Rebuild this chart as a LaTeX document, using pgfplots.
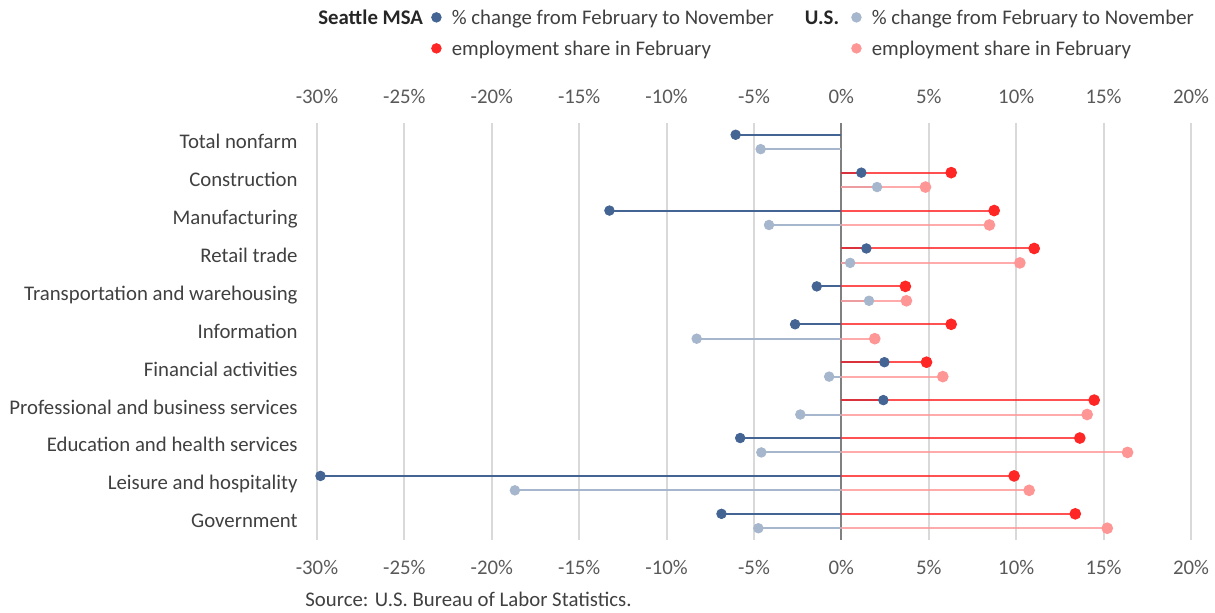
\documentclass[border=0pt]{standalone}
\usepackage{fontspec}
\setmainfont{Carlito}
\usepackage{pgfplots}
\usepackage{pgfplotstable}
\pgfplotsset{compat=1.18}
\definecolor{seablue}{RGB}{68,101,148}
\definecolor{usblue}{RGB}{166,182,204}
\definecolor{seared}{RGB}{255,38,38}
\definecolor{uspink}{RGB}{255,150,150}
\definecolor{gridgray}{RGB}{217,217,217}
\definecolor{zerogray}{RGB}{128,128,128}
\definecolor{ticktext}{RGB}{89,89,89}
\definecolor{labtext}{RGB}{64,64,64}
\definecolor{headtext}{RGB}{38,38,38}

\pgfplotstableread{
idx ys yu sc uc ss us
0 -0.19 0.19 -6.05 -4.62 nan nan
1 0.81 1.19 1.14 2.04 6.28 4.81
2 1.81 2.19 -13.27 -4.14 8.74 8.47
3 2.81 3.19 1.43 0.50 11.03 10.21
4 3.81 4.19 -1.41 1.58 3.66 3.72
5 4.81 5.19 -2.65 -8.28 6.28 1.91
6 5.81 6.19 2.46 -0.70 4.87 5.80
7 6.81 7.19 2.40 -2.35 14.46 14.06
8 7.81 8.19 -5.79 -4.58 13.64 16.37
9 8.81 9.19 -29.80 -18.68 9.88 10.74
10 9.81 10.19 -6.86 -4.75 13.38 15.21
}\data

\pgfplotsset{dotimg/.style={legend image code/.code={\path (0pt,0pt) (14pt,0pt); \fill[#1] (6.5pt,0pt) circle (2.4pt);}}}

\begin{document}
\fontsize{10.4}{12.5}\selectfont
\begin{tikzpicture}
\useasboundingbox (-158.5pt,-36.5pt) rectangle (449pt,270pt);
\begin{axis}[
  at={(0,0)}, anchor=south west,
  scale only axis, width=437pt, height=208.5pt,
  xmin=-30, xmax=20, ymin=-0.5, ymax=10.5, y dir=reverse,
  xtick={-30,-25,...,20},
  xticklabels={-30\%,-25\%,-20\%,-15\%,-10\%,-5\%,0\%,5\%,10\%,15\%,20\%},
  ytick={0,1,2,3,4,5,6,7,8,9,10},
  yticklabels={Total nonfarm,Construction,Manufacturing,Retail trade,Transportation and warehousing,Information,Financial activities,Professional and business services,Education and health services,Leisure and hospitality,Government},
  xmajorgrids, grid style={draw=gridgray, line width=1pt},
  extra x ticks={0}, extra x tick labels={},
  extra x tick style={grid style={draw=zerogray, line width=1.1pt}},
  axis line style={draw=none}, major tick length=0pt,
  xticklabel style={inner sep=0pt, yshift=-10.15pt, text=ticktext, text height=6.7pt, text depth=0pt},
  yticklabel style={inner sep=0pt, xshift=-9.5pt, text=labtext, text height=6.7pt, text depth=0pt},
  clip=false,
  legend columns=4,
  legend cell align=left,
  legend style={at={(0.0011,1.2703)}, anchor=north west, draw=none, fill=none, inner sep=0pt,
    row sep=8.8pt, nodes={inner sep=0pt, text height=6.7pt, text depth=0pt, text=labtext},
    /tikz/every even column/.append style={column sep=0pt}},
]
\addlegendimage{empty legend}\addlegendentry{\textcolor{headtext}{\textbf{Seattle MSA}}}
\addlegendimage{dotimg=seablue}\addlegendentry{\% change from February to November}
\addlegendimage{empty legend}\addlegendentry{\hspace*{15.5pt}\textcolor{headtext}{\textbf{U.S.}}\hspace*{2pt}}
\addlegendimage{dotimg=usblue}\addlegendentry{\% change from February to November}
\addlegendimage{empty legend}\addlegendentry{}
\addlegendimage{dotimg=seared}\addlegendentry{employment share in February}
\addlegendimage{empty legend}\addlegendentry{}
\addlegendimage{dotimg=uspink}\addlegendentry{employment share in February}

\addplot[xcomb, color=seablue, line width=1pt, no marks, forget plot] table[x=sc, y=ys]{\data};
\addplot[xcomb, color=usblue, line width=1pt, no marks, forget plot] table[x=uc, y=yu]{\data};
\addplot[xcomb, color=seared, draw opacity=0.8, line width=1pt, mark=*, mark size=2.4pt,
  mark options={fill=seared, draw=none, opacity=1}, forget plot] table[x=ss, y=ys]{\data};
\addplot[xcomb, color=uspink, draw opacity=0.8, line width=1pt, mark=*, mark size=2.4pt,
  mark options={fill=uspink, draw=none, opacity=1}, forget plot] table[x=us, y=yu]{\data};
\addplot[only marks, color=seablue, mark=*, mark size=2.4pt, mark options={fill=seablue, draw=none}, forget plot] table[x=sc, y=ys]{\data};
\addplot[only marks, color=usblue, mark=*, mark size=2.4pt, mark options={fill=usblue, draw=none}, forget plot] table[x=uc, y=yu]{\data};

\node[anchor=base west, inner sep=0pt, text=labtext] at (axis description cs:-0.0137,-0.160) {Source: U.S. Bureau of Labor Statistics.};
\end{axis}
\begin{axis}[
  at={(0,0)}, anchor=south west,
  scale only axis, width=437pt, height=208.5pt,
  xmin=-30, xmax=20, ymin=-0.5, ymax=10.5,
  xtick={-30,-25,...,20},
  xticklabels={-30\%,-25\%,-20\%,-15\%,-10\%,-5\%,0\%,5\%,10\%,15\%,20\%},
  ytick=\empty,
  xticklabel pos=right,
  axis line style={draw=none}, major tick length=0pt,
  xticklabel style={inner sep=0pt, yshift=9.65pt, text=ticktext, text height=6.7pt, text depth=0pt},
]
\addplot[draw=none, forget plot] coordinates {(0,0)};
\end{axis}
\end{tikzpicture}
\end{document}
